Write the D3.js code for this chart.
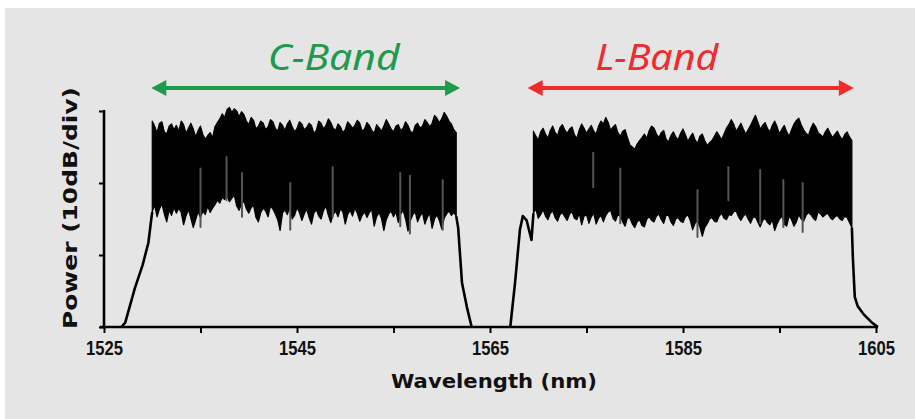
<!DOCTYPE html>
<html>
<head>
<meta charset="utf-8">
<script src="https://cdn.jsdelivr.net/npm/d3@7/dist/d3.min.js"></script>
<style>
    body { margin: 0; background: #fff; }
    svg { display: block; }
</style>
</head>
<body>
<div id="chart"></div>
<script>
/**
 * Size of the picture.
 */
var WIDTH = 915;
var HEIGHT = 419;

// x axis: wavelength ticks (nm), labelled every 20 nm
var xTicks = [1525, 1535, 1545, 1555, 1565, 1575, 1585, 1595, 1605];
var xTickLabels = ["1525", "", "1545", "", "1565", "", "1585", "", "1605"];
// y axis: relative power, 10 dB per division
var yTicks = [0, 10, 20, 30];

// sampled spectrum: upper and lower envelope of the trace (dB), 0.25 nm apart
var STEP = 0.25;
var C_START = 1530;
var cHigh = [28.6, 27.9, 27.0, 28.3, 28.5, 27.1, 26.8, 27.9, 28.2, 27.4,
             28.0, 27.2, 28.6, 28.1, 26.9, 27.6, 28.3, 27.5, 26.4, 27.3,
             27.9, 26.7, 26.1, 26.6, 27.0, 26.3, 27.8, 28.4, 28.9, 29.6,
             29.1, 30.2, 30.5, 29.8, 30.3, 30.0, 29.2, 29.9, 29.5, 28.6,
             28.1, 29.1, 28.7, 27.5, 27.9, 28.6, 28.3, 27.4, 27.8, 28.8,
             28.5, 27.6, 27.2, 28.4, 28.0, 27.3, 28.2, 28.7, 27.8, 27.1,
             27.6, 28.5, 28.2, 27.4, 27.7, 28.3, 28.0, 26.9, 27.3, 28.6,
             28.3, 27.5, 28.0, 28.9, 28.4, 27.6, 27.3, 28.2, 27.8, 27.0,
             27.4, 28.5, 28.1, 27.6, 28.0, 28.7, 28.3, 27.2, 27.5, 28.4,
             28.0, 27.3, 26.9, 28.1, 27.7, 27.2, 27.9, 28.8, 28.2, 27.5,
             27.1, 27.9, 28.1, 27.3, 27.6, 28.5, 28.0, 27.2, 26.9, 28.0,
             28.3, 27.6, 27.9, 28.8, 28.4, 27.8, 28.3, 29.4, 29.0, 28.4,
             28.9, 29.8, 29.3, 28.6, 28.2, 27.4, 27.0];
var cLow  = [16.0, 16.9, 15.3, 16.4, 17.1, 15.7, 14.6, 16.2, 15.5, 16.6,
             15.8, 16.5, 15.9, 14.2, 15.4, 16.3, 15.1, 13.8, 14.9, 16.0,
             15.2, 16.1, 15.6, 16.8, 15.9, 16.5, 17.0, 17.6, 17.2, 18.0,
             17.7, 18.2, 17.4, 17.9, 18.3, 16.8, 16.2, 17.1, 17.5, 16.4,
             15.8, 16.6, 16.9, 15.2, 14.6, 15.9, 16.5, 16.1, 15.3, 16.8,
             16.4, 15.7, 14.9, 13.4, 15.8, 16.3, 15.6, 16.7, 15.0, 15.5,
             16.6, 15.9, 14.8, 15.7, 16.4, 15.2, 14.3, 15.8, 16.3, 15.4,
             15.0, 16.2, 16.8, 15.5, 14.5, 15.6, 16.1, 15.3, 16.4, 16.0,
             14.3, 15.6, 16.2, 15.4, 16.5, 15.8, 14.7, 15.5, 16.0, 15.2,
             15.9, 16.3, 14.0, 15.3, 15.9, 15.1, 13.4, 14.9, 15.7, 16.1,
             15.3, 16.0, 14.5, 15.7, 16.2, 15.0, 13.3, 14.8, 15.6, 16.0,
             14.6, 15.4, 15.9, 14.3, 15.2, 15.8, 13.7, 15.0, 15.6, 14.8,
             13.6, 15.1, 15.7, 16.1, 15.5, 15.9, 15.4];

var L_START = 1569.5;
var lHigh = [27.2, 26.5, 26.0, 27.1, 27.6, 26.8, 26.2, 27.3, 27.9, 27.0,
             26.6, 27.7, 28.1, 27.4, 26.9, 27.5, 27.8, 26.7, 26.2, 27.4,
             28.2, 27.6, 26.9, 27.5, 28.0, 27.2, 26.8, 27.9, 28.6, 28.2,
             29.1, 28.4, 27.3, 27.8, 28.1, 27.0, 26.5, 27.2, 27.4, 26.3,
             25.3, 25.0, 24.7, 25.4, 25.9, 26.3, 26.8, 26.2, 27.3, 27.9,
             27.6, 26.8, 26.3, 27.0, 27.3, 26.1, 25.7, 26.6, 27.1, 26.4,
             26.0, 26.9, 27.5, 26.7, 25.8, 26.4, 26.9, 26.0, 25.5, 26.5,
             26.8, 25.9, 25.2, 25.6, 25.9, 26.5, 27.1, 26.6, 26.0, 26.8,
             27.6, 28.1, 28.8, 28.2, 27.2, 27.7, 28.3, 27.5, 26.8, 27.4,
             28.0, 28.7, 29.4, 28.5, 27.5, 28.0, 28.4, 27.6, 27.1, 28.0,
             28.6, 27.8, 26.8, 27.5, 28.0, 27.1, 26.5, 27.4, 28.2, 28.7,
             29.0, 28.1, 27.4, 26.9, 26.6, 27.6, 28.3, 27.8, 27.0, 26.7,
             26.4, 27.1, 27.6, 26.9, 26.3, 26.8, 27.2, 26.5, 26.0, 26.7,
             27.1, 26.4, 25.9];
var lLow  = [15.8, 16.4, 15.1, 15.6, 16.3, 15.4, 14.9, 15.8, 16.1, 15.2,
             14.7, 15.6, 15.9, 15.3, 14.8, 15.7, 16.0, 15.1, 14.9, 15.8,
             14.2, 15.4, 15.6, 14.4, 15.3, 15.8, 14.3, 15.1, 15.5, 14.6,
             15.5, 16.0, 16.2, 15.1, 14.7, 15.6, 15.4, 14.6, 14.0, 15.2,
             15.1, 14.3, 13.8, 14.6, 14.9, 14.1, 13.9, 15.0, 15.3, 14.8,
             14.6, 15.4, 15.7, 14.9, 14.4, 15.5, 15.5, 14.6, 14.1, 15.0,
             15.2, 14.7, 14.5, 15.3, 15.6, 14.8, 13.5, 14.4, 14.8, 13.9,
             12.6, 13.8, 14.3, 15.0, 15.2, 14.7, 14.6, 15.4, 15.8, 15.1,
             14.9, 15.6, 15.5, 16.0, 16.1, 15.3, 14.8, 15.4, 15.7, 15.0,
             14.4, 15.2, 15.3, 14.6, 13.9, 14.8, 15.1, 14.5, 14.2, 14.9,
             13.4, 14.3, 15.0, 15.4, 14.3, 14.0, 15.4, 14.9, 14.0, 14.6,
             15.6, 15.0, 14.7, 15.5, 15.9, 15.6, 15.1, 14.8, 16.0, 15.7,
             15.3, 15.6, 15.8, 15.2, 14.9, 15.3, 15.5, 15.0, 14.8, 15.4,
             15.2, 14.5, 13.8];

// narrow single dips of the trace, seen as grey streaks (nm, top dB, bottom dB)
var cStreakNm  = [1535.0, 1537.7, 1539.3, 1544.3, 1548.7, 1555.7, 1556.7, 1560.1];
var cStreakTop = [22.0, 23.6, 21.4, 20.0, 22.2, 21.4, 21.0, 20.4];
var cStreakBot = [13.9, 17.6, 15.3, 13.5, 15.3, 14.0, 13.0, 13.5];
var lStreakNm  = [1575.7, 1578.5, 1586.5, 1589.7, 1593.0, 1595.4, 1597.4];
var lStreakTop = [24.2, 22.0, 19.0, 22.2, 21.8, 20.4, 20.0];
var lStreakBot = [19.4, 14.4, 12.5, 17.6, 14.4, 13.9, 13.2];

// band edges (single trace)
var cRiseNm = [1526.8, 1527.2, 1528.2, 1529.0, 1529.6, 1529.9, 1530.0];
var cRiseDb = [0, 0.6, 5.4, 8.6, 11.7, 15.0, 16.0];
var cFallNm = [1561.5, 1561.7, 1562.1, 1562.6, 1563.1];
var cFallDb = [15.4, 13.8, 6.1, 2.8, 0];
var lRiseNm = [1567.1, 1567.6, 1568.1, 1568.4, 1568.8, 1569.3, 1569.5];
var lRiseDb = [0, 6.2, 13.5, 15.4, 14.8, 12.1, 15.8];
var lFallNm = [1602.5, 1602.6, 1602.8, 1603.1, 1603.7, 1604.5, 1605.2];
var lFallDb = [13.8, 9.7, 4.2, 2.9, 1.8, 0.7, 0];

// amplification bands shown by the arrows
var bandNames = ["C-Band", "L-Band"];
var bandFrom = [1529.9, 1568.9];
var bandTo = [1561.9, 1602.7];
var bandColors = ["#1d9a4c", "#ef2b2e"];
var bandLabelAt = [1548.8, 1582.3];

var MARGIN = { left: 104, right: 39, top: 111, bottom: 92 };
var BG = "#e5e5e5";

var svg, x, y;

init();

function init() {
    createLayout();
    drawAxes();
    drawSpectrum(C_START, cHigh, cLow, cRiseNm, cRiseDb, cFallNm, cFallDb);
    drawSpectrum(L_START, lHigh, lLow, lRiseNm, lRiseDb, lFallNm, lFallDb);
    drawStreaks(cStreakNm, cStreakTop, cStreakBot);
    drawStreaks(lStreakNm, lStreakTop, lStreakBot);
    drawBands();
}

/**
 * Creates the svg, background and scales.
 */
function createLayout() {
    svg = d3.select("#chart").append("svg")
        .attr("width", WIDTH)
        .attr("height", HEIGHT);

    svg.append("rect")
        .attr("x", 5).attr("y", 8)
        .attr("width", WIDTH - 5).attr("height", HEIGHT - 8)
        .attr("fill", BG);

    x = d3.scaleLinear()
        .domain([1525, 1605])
        .range([MARGIN.left, WIDTH - MARGIN.right]);
    y = d3.scaleLinear()
        .domain([0, 30])
        .range([HEIGHT - MARGIN.bottom, MARGIN.top]);
}

function drawAxes() {
    var xAxis = d3.axisBottom(x)
        .tickValues(xTicks)
        .tickSize(6)
        .tickPadding(8)
        .tickFormat(function(d, i) { return xTickLabels[i]; });
    var gx = svg.append("g")
        .attr("transform", "translate(0," + y(0) + ")")
        .call(xAxis);
    // the axis generator sets its own font, override it afterwards
    gx.attr("font-family", "'Liberation Sans', Arial, sans-serif")
        .attr("font-size", 20)
        .attr("font-weight", "bold");
    gx.select(".domain").remove();
    gx.append("line")
        .attr("x1", x(1525) - 4).attr("x2", x(1605) + 2)
        .attr("stroke", "#000").attr("stroke-width", 2.6);
    gx.selectAll(".tick line").attr("stroke", "#000").attr("stroke-width", 2);
    gx.selectAll(".tick text")
        .attr("fill", "#111")
        .filter(function() { return this.textContent !== ""; })
        .attr("textLength", 37)
        .attr("lengthAdjust", "spacingAndGlyphs");

    var yAxis = d3.axisLeft(y)
        .tickValues(yTicks)
        .tickSize(5)
        .tickFormat("");
    var gy = svg.append("g")
        .attr("transform", "translate(" + x(1525) + ",0)")
        .call(yAxis);
    gy.select(".domain").remove();
    gy.append("line")
        .attr("y1", y(30) - 1).attr("y2", y(0))
        .attr("stroke", "#000").attr("stroke-width", 2.6);
    gy.selectAll(".tick line").attr("stroke", "#000").attr("stroke-width", 2);

    svg.append("text")
        .attr("x", (x(1525) + x(1605)) / 2 + 4)
        .attr("y", 388)
        .attr("text-anchor", "middle")
        .attr("textLength", 206)
        .attr("lengthAdjust", "spacingAndGlyphs")
        .style("font-family", "'DejaVu Sans', sans-serif")
        .style("font-weight", "bold")
        .style("font-size", "19px")
        .attr("fill", "#111")
        .text("Wavelength (nm)");

    svg.append("text")
        .attr("transform", "translate(77," + 208 + ") rotate(-90)")
        .attr("text-anchor", "middle")
        .attr("textLength", 242)
        .attr("lengthAdjust", "spacingAndGlyphs")
        .style("font-family", "'DejaVu Sans', sans-serif")
        .style("font-weight", "bold")
        .style("font-size", "19px")
        .attr("fill", "#111")
        .text("Power (10dB/div)");
}

/**
 * Draws one amplified band: the dense noisy trace as the area between its
 * upper and lower envelope, plus the rising and falling edges.
 */
function drawSpectrum(start, high, low, riseNm, riseDb, fallNm, fallDb) {
    var rows = high.map(function(h, i) {
        return { nm: start + i * STEP, hi: h, lo: low[i] };
    });
    var area = d3.area()
        .x(function(d) { return x(d.nm); })
        .y0(function(d) { return y(d.lo); })
        .y1(function(d) { return y(d.hi); });
    svg.append("path")
        .datum(rows)
        .attr("d", area)
        .attr("fill", "#000")
        .attr("stroke", "#000")
        .attr("stroke-width", 1.2)
        .attr("stroke-linejoin", "round");

    var line = d3.line()
        .x(function(d) { return x(d[0]); })
        .y(function(d) { return y(d[1]); });
    [[riseNm, riseDb], [fallNm, fallDb]].forEach(function(e) {
        svg.append("path")
            .datum(d3.zip(e[0], e[1]))
            .attr("d", line)
            .attr("fill", "none")
            .attr("stroke", "#000")
            .attr("stroke-width", 2.6)
            .attr("stroke-linejoin", "round");
    });
}

/**
 * Thin grey streaks for the deepest single dips of the trace.
 */
function drawStreaks(nm, top, bot) {
    svg.append("g")
        .selectAll("line")
        .data(d3.zip(nm, top, bot))
        .join("line")
        .attr("x1", function(d) { return x(d[0]); })
        .attr("x2", function(d) { return x(d[0]); })
        .attr("y1", function(d) { return y(d[1]); })
        .attr("y2", function(d) { return y(d[2]); })
        .attr("stroke", "#555")
        .attr("stroke-width", 2)
        .attr("stroke-linecap", "round");
}

function drawBands() {
    var ay = 88;
    bandNames.forEach(function(name, i) {
        var x0 = x(bandFrom[i]), x1 = x(bandTo[i]);
        var g = svg.append("g").attr("fill", bandColors[i]);
        g.append("line")
            .attr("x1", x0 + 8).attr("x2", x1 - 8)
            .attr("y1", ay).attr("y2", ay)
            .attr("stroke", bandColors[i])
            .attr("stroke-width", 4);
        g.append("path")
            .attr("d", "M" + x0 + "," + ay + "L" + (x0 + 15) + "," + (ay - 8) +
                       "L" + (x0 + 15) + "," + (ay + 8) + "Z");
        g.append("path")
            .attr("d", "M" + x1 + "," + ay + "L" + (x1 - 15) + "," + (ay - 8) +
                       "L" + (x1 - 15) + "," + (ay + 8) + "Z");
        g.append("text")
            .attr("x", x(bandLabelAt[i]))
            .attr("y", 70)
            .attr("text-anchor", "middle")
            .attr("textLength", i === 0 ? 132 : 123)
            .attr("lengthAdjust", "spacingAndGlyphs")
            .style("font-family", "'Noto Sans', sans-serif")
            .style("font-style", "italic")
            .style("font-size", "36px")
            .text(name);
    });
}
</script>
</body>
</html>
